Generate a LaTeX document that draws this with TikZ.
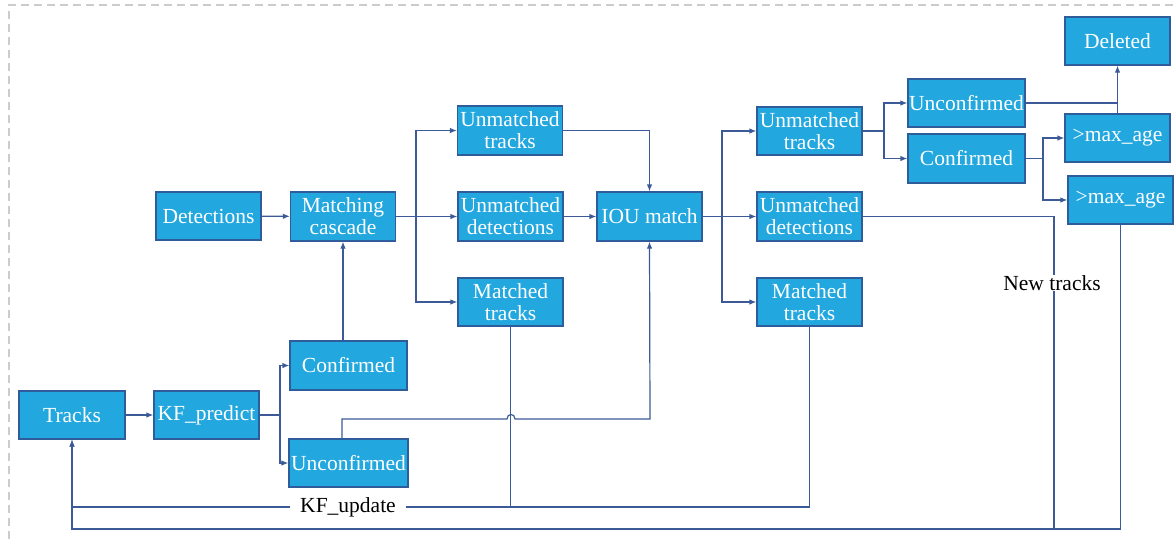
\documentclass[tikz,border=0pt]{standalone}
\usepackage{fontspec}
\setmainfont{Liberation Serif}
\usetikzlibrary{arrows.meta}
\definecolor{boxfill}{HTML}{22A7DE}
\definecolor{boxline}{HTML}{2F5C9A}
\definecolor{wire}{HTML}{3C5A98}
\begin{document}
\begin{tikzpicture}[x=1pt,y=-1pt,
  box/.style={draw=boxline,line width=1.2pt,fill=boxfill,text=white,align=center,inner sep=0pt,
    font=\fontsize{21.5}{22}\selectfont,minimum width=105pt,minimum height=48pt},
  wide/.style={minimum width=117pt},
  conn/.style={draw=wire,line width=1.2pt},
  arr/.style={conn,-{Latex[length=7pt,width=5.5pt]}},
  lab/.style={fill=white,inner sep=0pt,font=\fontsize{21.5}{22}\selectfont}]
\useasboundingbox (0,0) rectangle (1175,539);
\draw[gray!40,line width=1.2pt,dash pattern=on 8pt off 5pt] (9,539) -- (9,5) -- (1175,5);
% nodes
\node[box] (det) at (208.5,216) {Detections};
\node[box,minimum height=49pt] (mc) at (343,216.5) {Matching\\cascade};
\node[box,minimum height=49pt] (ut1) at (510,130.5) {Unmatched\\tracks};
\node[box,minimum height=49pt] (ud1) at (510.5,216.5) {Unmatched\\detections};
\node[box] (mt1) at (510.5,302) {Matched\\tracks};
\node[box,minimum height=49pt] (iou) at (649.5,216.5) {IOU match};
\node[box] (ut2) at (809.5,131) {Unmatched\\tracks};
\node[box,minimum height=49pt] (ud2) at (809.5,216.5) {Unmatched\\detections};
\node[box] (mt2) at (809.5,302) {Matched\\tracks};
\node[box,wide] (unct) at (966.5,103) {Unconfirmed};
\node[box,wide,minimum height=49pt] (cont) at (966.5,158.5) {Confirmed};
\node[box] (del) at (1117.5,41) {Deleted};
\node[box] (ma1) at (1117.5,138) {>max\_age};
\node[box] (ma2) at (1120.5,200) {>max\_age};
\node[box,minimum width=106pt] (tracks) at (72,415) {Tracks};
\node[box] (kfp) at (206.5,415) {KF\_predict};
\node[box,wide,minimum height=49pt] (conb) at (348.5,365.5) {Confirmed};
\node[box,minimum width=119pt] (uncb) at (348.5,463) {Unconfirmed};
% coordinates
\coordinate (b1) at (416,216.5);
\coordinate (b2) at (722,216.5);
\coordinate (kb) at (280,415);
\coordinate (ub) at (884,131);
\coordinate (cb) at (1043,158.5);
\coordinate (bl) at (72,529);
\coordinate (ntc) at (1054,529);
\coordinate (ubend) at (342,419);
\coordinate (iouin) at (650,419);
% connectors
\draw[arr] (det) -- (mc);
\draw[arr] (mc) -- (ud1);
\draw[arr] (b1) |- (ut1.west);
\draw[arr] (b1) |- (mt1.west);
\draw[arr] (ut1.east) -| (iou.north);
\draw[arr] (ud1) -- (iou);
\draw[arr] (iou) -- (ud2);
\draw[arr] (b2) |- (ut2.west);
\draw[arr] (b2) |- (mt2.west);
\draw[arr] (ut2.east) -- (ub) |- (unct.west);
\draw[arr] (ub) |- (cont.west);
\draw[arr] (unct.east) -| (del.south);
\draw[conn] (ma1.north) -- (ma1.north |- unct.east);
\draw[arr] (cont.east) -- (cb) |- (ma1.west);
\draw[arr] (cb) |- (ma2.west);
\draw[arr] (tracks) -- (kfp);
\draw[arr] (kfp.east) -- (kb) |- (conb.west);
\draw[arr] (kb) |- (uncb.west);
\draw[arr] (mc.south |- conb.north) -- (mc.south);
\draw[arr] (uncb.north -| ubend) -- (ubend) -- (507,419) .. controls (507,413) and (515,413) .. (515,419) -- (iouin) -- (iou.south);
% KF_update
\node[lab,inner xsep=10pt,inner ysep=2pt] (kfu) at (348,507) {KF\_update};
\draw[conn] (mt1.south) -- (mt1.south |- kfu.east);
\draw[conn] (mt2.south) |- (kfu.east);
\draw[arr] (kfu.west) -| (tracks.south);
% bottom loop
\draw[conn] (ud2.east) -| (ntc);
\draw[arr] (ma2.south) |- (bl) -- (tracks.south);
\node[lab] (nt) at (1052,283) {New tracks};
\end{tikzpicture}
\end{document}
